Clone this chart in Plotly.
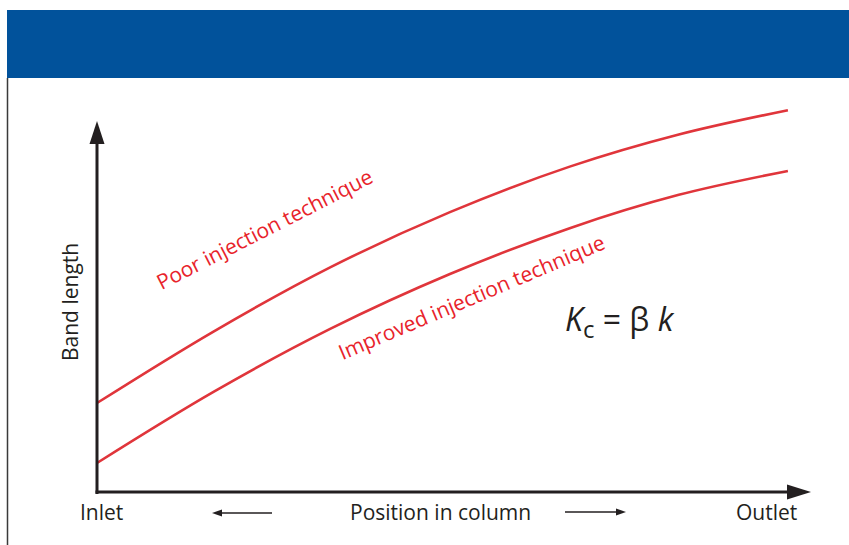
import plotly.graph_objects as go

# ---- data (position along column 0..100, band length arbitrary units) ----
position = [0, 16.4, 32.7, 49.5, 66.3, 81.6, 96.9]
band_poor = [22.7, 41.0, 57.3, 71.4, 83.0, 91.2, 97.4]
band_improved = [7.4, 25.6, 41.6, 55.6, 67.3, 75.8, 81.9]

x_labels = ["Inlet", "Position in column", "Outlet"]
y_label = "Band length"
series_names = ["Poor injection technique", "Improved injection technique"]

W, H = 849, 545
# pixel layout of the original figure
X0PX, XSCALE = 97.0, 7.13   # px of x=0, px per unit
Y0PX, YSCALE = 492.0, 3.92  # px of y=0, px per unit
PL, PR, PT, PB = 62, 846, 90, 520  # plot area in pixels


def dx(px):
    return (px - X0PX) / XSCALE


def dy(py):
    return (Y0PX - py) / YSCALE


def pxp(px):
    return (px - PL) / (PR - PL)


def pyp(py):
    return (PB - py) / (PB - PT)


RED = "#e0353b"
TXTRED = "#e8232b"
AX = "#231f20"
FONT = "Open Sans"

fig = go.Figure()
fig.add_trace(go.Scatter(x=position, y=band_poor, mode="lines",
                         line=dict(color=RED, width=2.6, shape="spline", smoothing=1),
                         name=series_names[0], hoverinfo="skip"))
fig.add_trace(go.Scatter(x=position, y=band_improved, mode="lines",
                         line=dict(color=RED, width=2.6, shape="spline", smoothing=1),
                         name=series_names[1], hoverinfo="skip"))

shapes = []
# header band
shapes.append(dict(type="rect", xref="paper", yref="paper",
                   x0=pxp(7), x1=pxp(852), y0=pyp(78), y1=pyp(10),
                   fillcolor="#01529b", line=dict(width=0), layer="above"))
# left border line
shapes.append(dict(type="line", xref="paper", yref="paper",
                   x0=pxp(7.5), x1=pxp(7.5), y0=pyp(78), y1=pyp(548),
                   line=dict(color="#3a3a3a", width=1.5)))
# y axis line + arrow head
shapes.append(dict(type="line", x0=dx(97), x1=dx(97), y0=dy(494), y1=dy(138),
                   line=dict(color=AX, width=3)))
shapes.append(dict(type="path",
                   path=f"M {dx(97)},{dy(121)} L {dx(89.5)},{dy(144)} L {dx(104.5)},{dy(144)} Z",
                   fillcolor=AX, line=dict(width=0)))
# x axis line + arrow head
shapes.append(dict(type="line", x0=dx(95.5), x1=dx(792), y0=dy(492), y1=dy(492),
                   line=dict(color=AX, width=3)))
shapes.append(dict(type="path",
                   path=f"M {dx(811)},{dy(492)} L {dx(787)},{dy(484.5)} L {dx(787)},{dy(499.5)} Z",
                   fillcolor=AX, line=dict(width=0)))
# small direction arrows under the axis
shapes.append(dict(type="line", x0=dx(218), x1=dx(272), y0=dy(513), y1=dy(513),
                   line=dict(color=AX, width=1.6)))
shapes.append(dict(type="path",
                   path=f"M {dx(212)},{dy(513)} L {dx(222)},{dy(509.5)} L {dx(222)},{dy(516.5)} Z",
                   fillcolor=AX, line=dict(width=0)))
shapes.append(dict(type="line", x0=dx(565), x1=dx(620), y0=dy(512), y1=dy(512),
                   line=dict(color=AX, width=1.6)))
shapes.append(dict(type="path",
                   path=f"M {dx(626)},{dy(512)} L {dx(616)},{dy(508.5)} L {dx(616)},{dy(515.5)} Z",
                   fillcolor=AX, line=dict(width=0)))

annotations = []
lab_font = dict(family=FONT, size=21, color="#231f20")
annotations.append(dict(x=dx(101), y=dy(512), text=x_labels[0], showarrow=False,
                        font=lab_font, xanchor="center", yanchor="middle"))
annotations.append(dict(x=dx(440), y=dy(512), text=x_labels[1], showarrow=False,
                        font=lab_font, xanchor="center", yanchor="middle"))
annotations.append(dict(x=dx(766), y=dy(512), text=x_labels[2], showarrow=False,
                        font=lab_font, xanchor="center", yanchor="middle"))
annotations.append(dict(x=dx(70), y=dy(302), text=y_label, showarrow=False,
                        font=lab_font, textangle=-90, xanchor="center", yanchor="middle"))
# curve labels
annotations.append(dict(x=dx(264), y=dy(229), text=series_names[0], showarrow=False,
                        textangle=-27, font=dict(family=FONT, size=21, color=TXTRED),
                        xanchor="center", yanchor="middle"))
annotations.append(dict(x=dx(471), y=dy(297), text=series_names[1], showarrow=False,
                        textangle=-23, font=dict(family=FONT, size=21, color=TXTRED),
                        xanchor="center", yanchor="middle"))
# equation
annotations.append(dict(x=dx(620), y=dy(321),
                        text="<i>K</i><sub><span style='font-size:24px'>c</span></sub> = β <i>k</i>",
                        showarrow=False,
                        font=dict(family=FONT, size=32, color="#231f20"),
                        xanchor="center", yanchor="middle"))

fig.update_layout(
    width=W, height=H,
    margin=dict(l=PL, r=W - PR, t=PT, b=H - PB, autoexpand=False),
    paper_bgcolor="white", plot_bgcolor="white",
    showlegend=False,
    xaxis=dict(range=[dx(PL), dx(PR)], visible=False, fixedrange=True),
    yaxis=dict(range=[dy(PB), dy(PT)], visible=False, fixedrange=True),
    shapes=shapes, annotations=annotations,
)

fig.write_html("out.html", config={"displayModeBar": False},
               post_script="document.body.style.margin='0';document.body.style.overflow='hidden';")
